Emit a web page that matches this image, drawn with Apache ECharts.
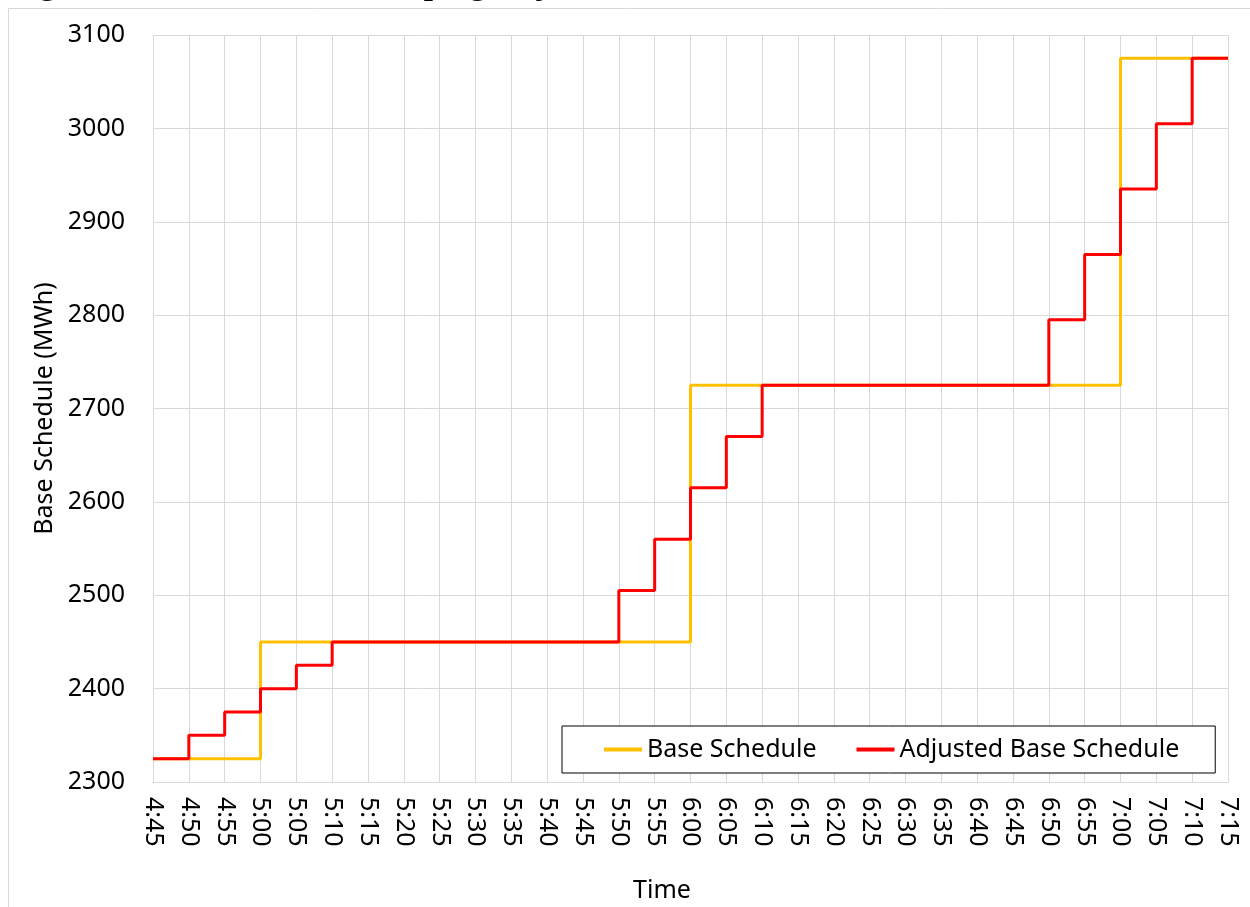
<!DOCTYPE html>
<html>
<head>
<meta charset="utf-8">
<script src="https://cdn.jsdelivr.net/npm/echarts@6/dist/echarts.min.js"></script>
<style>
html,body{margin:0;padding:0;background:#fff;}
#chart{width:1250px;height:907px;}
</style>
</head>
<body>
<div id="chart"></div>
<script>
var times = ['4:45','4:50','4:55','5:00','5:05','5:10','5:15','5:20','5:25','5:30','5:35','5:40','5:45','5:50','5:55','6:00','6:05','6:10','6:15','6:20','6:25','6:30','6:35','6:40','6:45','6:50','6:55','7:00','7:05','7:10','7:15'];
var baseSchedule = [2325,2325,2325,2450,2450,2450,2450,2450,2450,2450,2450,2450,2450,2450,2450,2725,2725,2725,2725,2725,2725,2725,2725,2725,2725,2725,2725,3075,3075,3075,3075];
var adjustedSchedule = [2325,2350,2375,2400,2425,2450,2450,2450,2450,2450,2450,2450,2450,2505,2560,2615,2670,2725,2725,2725,2725,2725,2725,2725,2725,2795,2865,2935,3005,3075,3075];
var seriesNames = ['Base Schedule','Adjusted Base Schedule'];
var titleText = 'Figure 4: Base Schedule Ramping Adjustment';

var font = 'Noto Sans';
var chart = echarts.init(document.getElementById('chart'), null, {renderer:'canvas'});
chart.setOption({
  animation: false,
  backgroundColor: '#ffffff',
  grid: {left: 153, right: 22, top: 35, bottom: 125, containLabel: false},
  graphic: [
    {type:'rect', shape:{x:8.5, y:8.5, width:1300, height:1000}, style:{fill:'none', stroke:'#d9d9d9', lineWidth:1}, z:0},
    {type:'text', x: 10, y: 2, style:{text: titleText, font:'bold 33px "Liberation Serif"', fill:'#000', textVerticalAlign:'bottom'}},
    {type:'text', x: 662, y: 891, style:{text:'Time', font:'25px "Noto Sans"', fill:'#000', textAlign:'center', textVerticalAlign:'middle'}}
  ],
  legend: {
    left: 562, top: 726,
    padding: [11, 36, 11, 42],
    itemGap: 40,
    itemWidth: 38, itemHeight: 4,
    icon: 'rect',
    borderColor: '#000', borderWidth: 1,
    backgroundColor: '#fff',
    textStyle: {fontFamily: font, fontSize: 25, color: '#000'},
    data: seriesNames
  },
  xAxis: {
    type: 'category',
    data: times,
    boundaryGap: false,
    axisLine: {show: true, lineStyle: {color: '#d9d9d9', width: 1}},
    axisTick: {show: false},
    axisLabel: {rotate: -90, fontFamily: font, fontSize: 25, color: '#000', margin: 15, interval: 0},
    splitLine: {show: true, interval: 0, lineStyle: {color: '#d9d9d9', width: 1}}
  },
  yAxis: {
    type: 'value',
    min: 2300, max: 3100, interval: 100,
    name: 'Base Schedule (MWh)',
    nameLocation: 'middle',
    nameGap: 93,
    nameRotate: 90,
    nameTextStyle: {fontFamily: font, fontSize: 25, color: '#000'},
    axisLine: {show: false},
    axisTick: {show: false},
    axisLabel: {fontFamily: font, fontSize: 25, color: '#000', margin: 28, formatter: function (v) { return String(v); }},
    splitLine: {show: true, lineStyle: {color: '#d9d9d9', width: 1}}
  },
  series: [
    {name: seriesNames[0], type: 'line', step: 'end', data: baseSchedule, showSymbol: false, symbol: 'none',
     lineStyle: {color: '#FFC000', width: 3}, itemStyle: {color: '#FFC000'}, z: 2},
    {name: seriesNames[1], type: 'line', step: 'end', data: adjustedSchedule, showSymbol: false, symbol: 'none',
     lineStyle: {color: '#FF0000', width: 3}, itemStyle: {color: '#FF0000'}, z: 3}
  ]
});
</script>
</body>
</html>
